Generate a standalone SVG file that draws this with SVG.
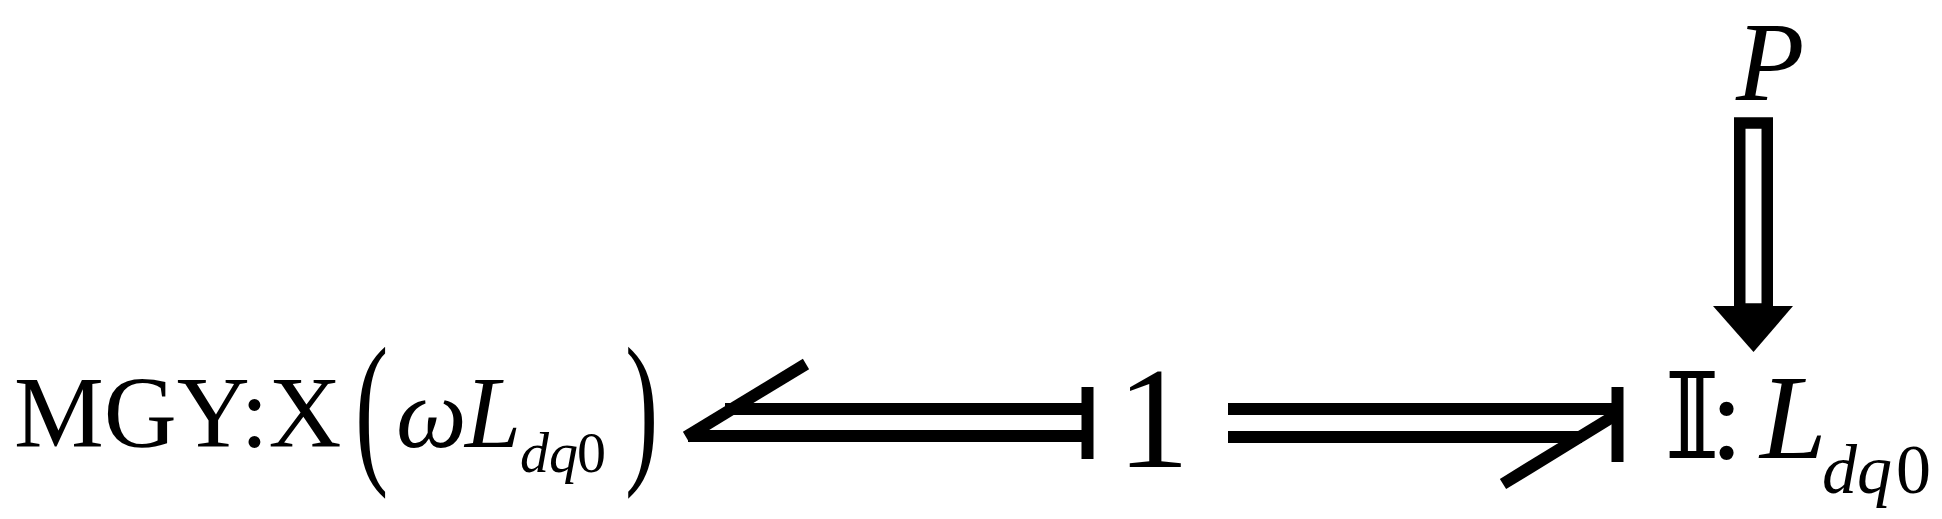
<svg xmlns="http://www.w3.org/2000/svg" width="1942" height="519" viewBox="0 0 1942 519">
<style>
text{font-family:'Liberation Serif','Times New Roman',serif;fill:#000}
.i{font-style:italic}
.ln{stroke:#000;stroke-width:12;fill:none;stroke-linecap:butt}
</style>
<rect width="1942" height="519" fill="#fff"/>
<g id="node-left">
<text x="14" y="447" font-size="101">MGY:X<tspan class="i" x="396" font-size="100">ω</tspan><tspan class="i" x="465">L</tspan><tspan class="i" x="520" y="472" font-size="58">dq</tspan><tspan x="577" font-size="58">0</tspan></text>
<text font-size="100" transform="translate(355,463) scale(1,1.68)">(</text>
<text font-size="100" transform="translate(625,463) scale(1,1.68)">)</text>
</g>
<g id="node-one">
<text x="1117" y="467" font-size="145">1</text>
</g>
<g id="node-right">
<text x="1664" y="458" font-size="120"><tspan style="font-family:'DejaVu Serif','DejaVu Sans',serif">𝕀</tspan><tspan x="1710">:</tspan><tspan class="i" x="1760">L</tspan><tspan class="i" x="1822" y="493" font-size="70">dq</tspan><tspan x="1896" font-size="70">0</tspan></text>
</g>
<g id="node-p">
<text class="i" x="1736" y="100" font-size="112">P</text>
</g>
<g id="connectors">
<g id="arrow-left">
<line class="ln" x1="725" y1="409" x2="1082" y2="409"/>
<line class="ln" x1="688" y1="436" x2="1082" y2="436"/>
<line class="ln" x1="1087.5" y1="387" x2="1087.5" y2="459" stroke-width="11"/>
<line class="ln" x1="686" y1="437" x2="806" y2="364" stroke-width="11"/>
</g>
<g id="arrow-right">
<line class="ln" x1="1228" y1="409" x2="1612" y2="409"/>
<line class="ln" x1="1228" y1="437" x2="1582" y2="437"/>
<line class="ln" x1="1617.5" y1="387" x2="1617.5" y2="462" stroke-width="11"/>
<line class="ln" x1="1503" y1="484" x2="1614" y2="416" stroke-width="11"/>
</g>
<g id="arrow-down">
<rect x="1739.75" y="123" width="27.5" height="186" fill="none" stroke="#000" stroke-width="11.5"/>
<polygon points="1713,306 1793,306 1753.5,352" fill="#000"/>
</g>
</g>
</svg>
